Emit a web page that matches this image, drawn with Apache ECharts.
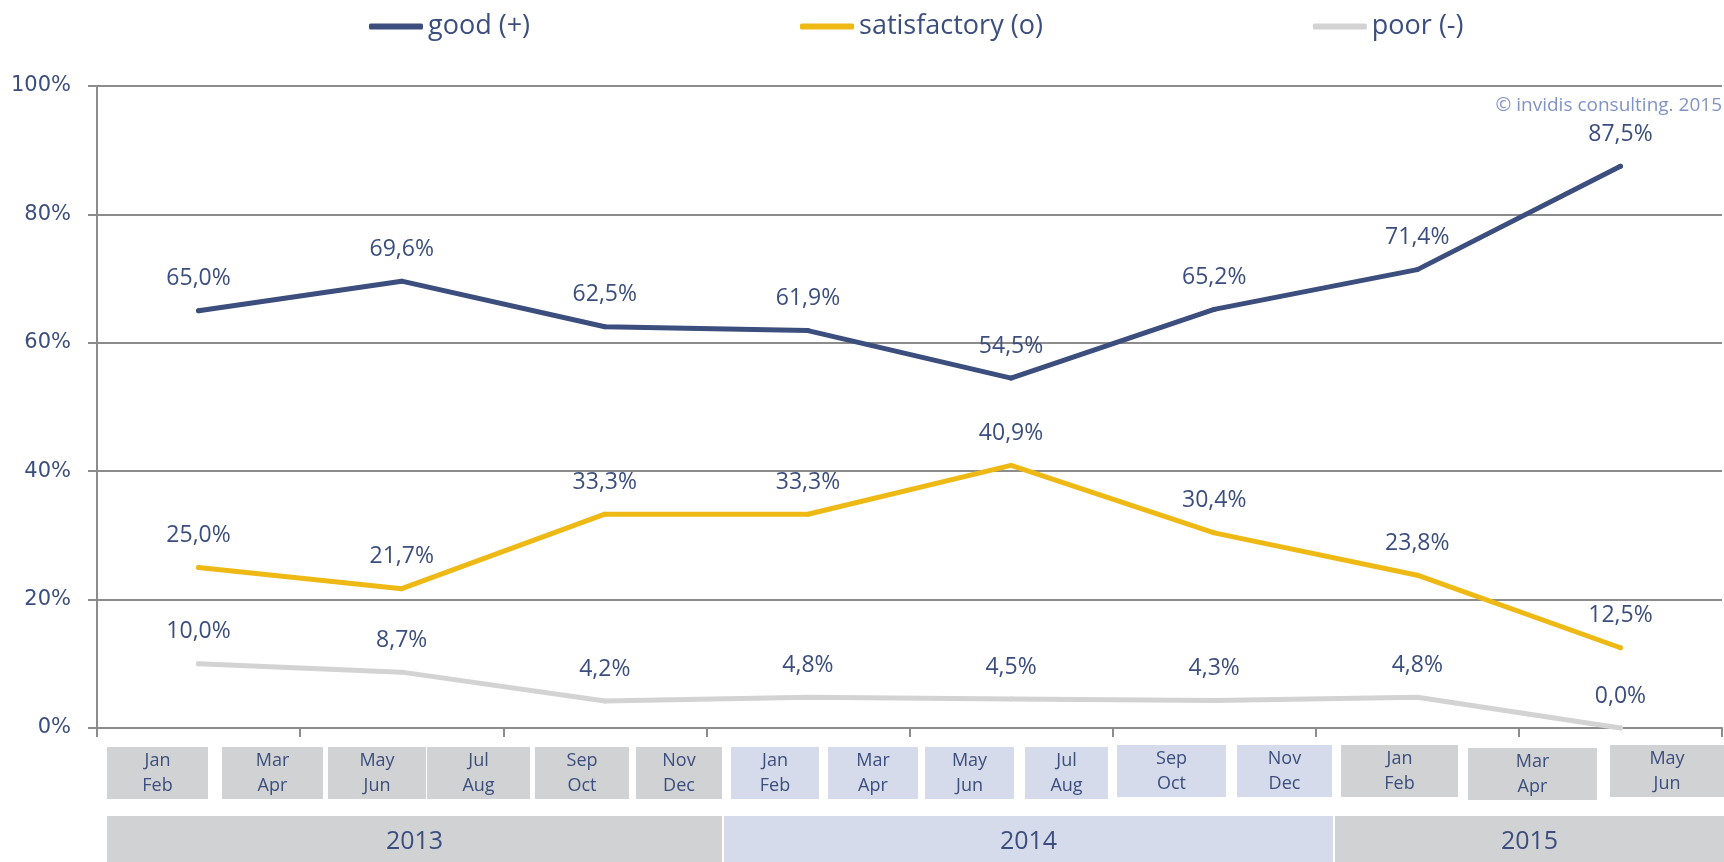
<!DOCTYPE html>
<html><head><meta charset="utf-8">
<script src="https://cdn.jsdelivr.net/npm/echarts@6/dist/echarts.min.js"></script>
<style>html,body{margin:0;padding:0;background:#fff}#c{width:1724px;height:862px}</style>
</head><body><div id="c"></div><script>
// ---- data ----
const categories = ['Jan/Feb 2013','May/Jun 2013','Sep/Oct 2013','Jan/Feb 2014','May/Jun 2014','Sep/Oct 2014','Jan/Feb 2015','May/Jun 2015'];
const seriesNames = ['good (+)','satisfactory (o)','poor (-)'];
const good = [65.0, 69.6, 62.5, 61.9, 54.5, 65.2, 71.4, 87.5];
const satisfactory = [25.0, 21.7, 33.3, 33.3, 40.9, 30.4, 23.8, 12.5];
const poor = [10.0, 8.7, 4.2, 4.8, 4.5, 4.3, 4.8, 0.0];
const yTickLabels = ['0%','20%','40%','60%','80%','100%'];
const monthLabels = ['Jan\nFeb','Mar\nApr','May\nJun','Jul\nAug','Sep\nOct','Nov\nDec',
                     'Jan\nFeb','Mar\nApr','May\nJun','Jul\nAug','Sep\nOct','Nov\nDec',
                     'Jan\nFeb','Mar\nApr','May\nJun'];
const monthYearIndex = [0,0,0,0,0,0,1,1,1,1,1,1,2,2,2];
const years = ['2013','2014','2015'];
const copyright = '© invidis consulting. 2015';

// ---- layout (positions of the timeline boxes, not data) ----
const monthBoxX = [[107,208],[222,323],[328,426],[427,530],[535,629],[636,722],
                   [731,819],[828,918],[925,1014],[1025,1108],[1117,1226],[1237,1332],
                   [1341,1458],[1468,1597],[1610,1724]];
const monthBoxTop = [747,747,747,747,747,747, 747,747,747,747,745,745, 745,748,745];
const yearBoxX = [[107,722],[724,1333],[1335,1724]];
const yearColors = ['#d1d2d4','#d5dbea','#d1d2d4'];
const textColor = '#3b4e7d';

const chart = echarts.init(document.getElementById('c'));
const graphic = [];
monthLabels.forEach((t, i) => {
  const [x0, x1] = monthBoxX[i];
  const top = monthBoxTop[i];
  graphic.push({type:'rect', shape:{x:x0, y:top, width:x1-x0, height:52},
    style:{fill: yearColors[monthYearIndex[i]]}, silent:true});
  graphic.push({type:'text', x:(x0+x1)/2, y:top+26,
    style:{text:t, fill:textColor, font:'18px "Open Sans"', align:'center', verticalAlign:'middle', lineHeight:25}, silent:true});
});
years.forEach((t, i) => {
  const [x0, x1] = yearBoxX[i];
  graphic.push({type:'rect', shape:{x:x0, y:816, width:x1-x0, height:46},
    style:{fill: yearColors[i]}, silent:true});
  graphic.push({type:'text', x:(x0+x1)/2, y:842,
    style:{text:t, fill:textColor, font:'25px "Open Sans"', align:'center', verticalAlign:'middle'}, silent:true});
});
graphic.push({type:'text', right:2, top:96,
  style:{text:copyright, fill:'#8193c4', font:'19px "Open Sans"'}, silent:true});

const colors = ['#3b4e7d','#eeb914','#d3d3d3'];
const dataSets = [good, satisfactory, poor];
const fmt = p => p.value.toFixed(1).replace('.', ',') + '%';

chart.setOption({
  animation:false,
  color: colors,
  legend:{
    left:364, top:8, itemWidth:54, itemHeight:6, itemGap:270, icon:'roundRect',
    textStyle:{color:textColor, fontFamily:'Open Sans', fontSize:27},
    data: seriesNames
  },
  grid:{left:97, right:2, top:86, bottom:134, containLabel:false},
  xAxis:{
    type:'category', data:categories, boundaryGap:true,
    axisLine:{show:true, lineStyle:{color:'#8c8c8c', width:2}},
    axisTick:{show:true, length:9, lineStyle:{color:'#8c8c8c', width:2}},
    axisLabel:{show:false}
  },
  yAxis:{
    type:'value', min:0, max:100, interval:20,
    axisLine:{show:true, lineStyle:{color:'#8c8c8c', width:2}},
    axisTick:{show:true, length:9, lineStyle:{color:'#8c8c8c', width:2}},
    splitLine:{show:true, lineStyle:{color:'#8c8c8c', width:2}},
    axisLabel:{margin:26, color:textColor, fontFamily:'DejaVu Sans', fontSize:21,
      formatter: v => yTickLabels[Math.round(v/20)]}
  },
  series: seriesNames.map((n, i) => ({
    name:n, type:'line', data:dataSets[i], symbol:'circle', symbolSize:5, showSymbol:true, z: 10 - i,
    itemStyle:{color:colors[i]},
    lineStyle:{width:5, color:colors[i], cap:'round', join:'round'},
    label:{show:true, position:'top', distance:18, formatter:fmt,
      color:textColor, fontFamily:'Open Sans', fontSize:23}
  })),
  graphic: graphic
});
</script></body></html>
